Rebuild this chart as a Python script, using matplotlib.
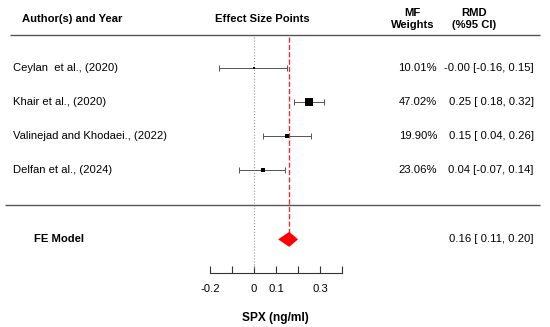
import matplotlib.pyplot as plt
import numpy as np

plt.rcParams['font.family'] = ['Liberation Sans', 'DejaVu Sans']

# study data
studies = ['Ceylan  et al., (2020)', 'Khair et al., (2020)',
           'Valinejad and Khodaei., (2022)', 'Delfan et al., (2024)']
rmd = [-0.00, 0.25, 0.15, 0.04]
lower = [-0.16, 0.18, 0.04, -0.07]
upper = [0.15, 0.32, 0.26, 0.14]
weights = [10.01, 47.02, 19.90, 23.06]

# pooled fixed effect
fe_est, fe_low, fe_high = 0.16, 0.11, 0.20

xticks = [-0.2, -0.1, 0, 0.1, 0.2, 0.3, 0.4]
xticklabels = ['-0.2', '', '0', '0.1', '', '0.3', '']

fig = plt.figure(figsize=(5.5, 3.27), dpi=100)
ax = fig.add_axes([0, 0, 1, 1])

# pixel layout: x_px = 254 + 220*value, y_px = 68 + 34*row
ax.set_xlim(-254 / 220, (550 - 254) / 220)
ax.set_ylim((327 - 68) / 34, -68 / 34)

rows = np.arange(len(studies))
y_top, y_bottom, y_fe, y_axis = -0.97, 4.03, 5.04, 6.03

# reference lines
ax.vlines(0, y_top + 0.05, 5.87, color='#999999', linestyle=':', lw=0.8)
ax.vlines(fe_est, y_top + 0.05, y_fe - 0.2, color='#ee2a33', linestyle='--', lw=1.0)

# horizontal separators
ax.hlines([y_top, y_bottom], [-1.11, -1.13], [1.3, 1.3], color='#555555', lw=1.0)

# CIs and squares (side proportional to weight)
ax.errorbar(rmd, rows, xerr=[np.array(rmd) - np.array(lower), np.array(upper) - np.array(rmd)],
            fmt='none', ecolor='#555555', elinewidth=0.7, capsize=2, capthick=0.7)
sizes = (np.array(weights) / 47.02 * 6.0) ** 2
ax.scatter(rmd, rows, s=sizes, marker='s', color='black', lw=0, zorder=3)

# diamond
ax.fill([fe_low, fe_est, fe_high, fe_est], [y_fe, y_fe - 0.22, y_fe, y_fe + 0.22],
        color='red', lw=0, zorder=3)

fs = 8.1
# headers
ax.text(-1.055, -1.45, 'Author(s) and Year', fontsize=fs, fontweight='bold', va='center')
ax.text(0.04, -1.45, 'Effect Size Points', fontsize=fs, fontweight='bold', va='center', ha='center')
ax.text(0.72, -1.45, 'MF\nWeights', fontsize=fs, fontweight='bold', va='center', ha='center')
ax.text(1.0, -1.45, 'RMD\n(%95 CI)', fontsize=fs, fontweight='bold', va='center', ha='center')

for i in rows:
    ax.text(-1.095, i, studies[i], fontsize=fs, va='center')
    ax.text(0.832, i, f'{weights[i]:.2f}%', fontsize=fs, va='center', ha='right')
    ax.text(1.272, i, f'{rmd[i]:.2f} [{lower[i]:5.2f}, {upper[i]:.2f}]',
            fontsize=fs, va='center', ha='right')

ax.text(-1.0, y_fe, 'FE Model', fontsize=fs, fontweight='bold', va='center')
ax.text(1.272, y_fe, f'{fe_est:.2f} [ {fe_low:.2f}, {fe_high:.2f}]', fontsize=fs,
        va='center', ha='right')

# x scale
for side in ['top', 'left', 'right']:
    ax.spines[side].set_visible(False)
ax.spines['bottom'].set_position(('data', y_axis))
ax.spines['bottom'].set_bounds(-0.2, 0.4)
ax.spines['bottom'].set_color('#333333')
ax.spines['bottom'].set_linewidth(0.8)
ax.set_xticks(xticks)
ax.set_xticklabels(xticklabels)
ax.tick_params(axis='x', direction='in', length=5, width=0.8, color='#333333',
               labelsize=fs, pad=8)
ax.set_yticks([])
ax.set_xlabel('SPX (ng/ml)', fontsize=fs + 0.5, fontweight='bold', labelpad=13)

fig.savefig('out.png', dpi=100)
